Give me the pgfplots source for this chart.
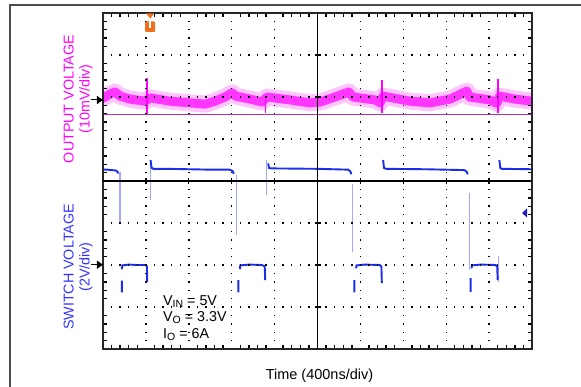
\documentclass[border=0pt]{standalone}
\usepackage{pgfplots}
\pgfplotsset{compat=1.18}
\usepackage{fontspec}
\setmainfont{Liberation Sans}
\usetikzlibrary{arrows.meta}
\definecolor{mag}{RGB}{255,0,255}
\definecolor{magcore}{RGB}{255,30,255}
\definecolor{magl}{RGB}{255,150,255}
\definecolor{magline}{RGB}{176,48,176}
\definecolor{tr2}{RGB}{25,45,235}
\definecolor{tr2f}{RGB}{160,168,255}
\definecolor{lab2}{RGB}{51,51,255}
\definecolor{trig}{RGB}{240,112,32}
\definecolor{mk2}{RGB}{30,30,190}
\newcommand{\sub}[1]{\raisebox{-2.6pt}{\fontsize{10.5}{12}\selectfont #1}}

\begin{document}
\begin{tikzpicture}
\begin{axis}[
  at={(0,0)}, anchor=south west,
  scale only axis, width=429pt, height=336pt,
  xmin=0, xmax=10, ymin=0, ymax=8,
  xtick={0,...,10}, ytick={0,...,8},
  xticklabels={}, yticklabels={},
  major tick length=0pt,
  minor x tick num=4, minor y tick num=4,
  minor tick length=4pt,
  tick align=inside,
  minor tick style={black, line width=1.4pt},
  grid=major,
  x grid style={black, line width=1.4pt, dash pattern=on 1.4pt off 7pt, dash phase=0.7pt},
  y grid style={black, line width=1.4pt, dash pattern=on 1.4pt off 7.18pt, dash phase=0.7pt},
  axis line style={black!85, line width=1.2pt},
  axis on top,
  unbounded coords=jump,
  clip=true,
]
% ---- channel 1: output voltage (band) ----
\addplot[magl, line width=17pt, line join=round, line cap=round, opacity=0.55] coordinates {
(0,5.97)(0.16,6.07)(0.28,6.12)(0.40,6.02)(0.63,5.95)(0.98,5.90)(1.10,5.98)
(1.56,5.90)(2.03,5.86)(2.38,5.83)(2.61,5.90)(2.84,6.00)(3.01,6.10)(3.10,6.02)
(3.43,5.95)(3.71,5.88)(3.82,6.00)(4.36,5.93)(4.83,5.86)(5.06,5.88)(5.41,6.00)
(5.73,6.12)(5.83,6.00)(6.34,5.93)(6.46,5.86)(6.53,6.02)(7.16,5.90)(7.62,5.86)
(8.09,5.95)(8.48,6.14)(8.55,6.00)(9.02,5.93)(9.18,5.85)(9.25,6.02)(9.60,5.95)(10,5.90)};
\addplot[magcore, line width=9pt, line join=round, line cap=round, opacity=0.85] coordinates {
(0,5.97)(0.16,6.07)(0.28,6.12)(0.40,6.02)(0.63,5.95)(0.98,5.90)(1.10,5.98)
(1.56,5.90)(2.03,5.86)(2.38,5.83)(2.61,5.90)(2.84,6.00)(3.01,6.10)(3.10,6.02)
(3.43,5.95)(3.71,5.88)(3.82,6.00)(4.36,5.93)(4.83,5.86)(5.06,5.88)(5.41,6.00)
(5.73,6.12)(5.83,6.00)(6.34,5.93)(6.46,5.86)(6.53,6.02)(7.16,5.90)(7.62,5.86)
(8.09,5.95)(8.48,6.14)(8.55,6.00)(9.02,5.93)(9.18,5.85)(9.25,6.02)(9.60,5.95)(10,5.90)};
% spikes
\addplot[mag, line width=1.3pt] coordinates {
(1.026,6.45)(1.026,5.57) (nan,nan)
(3.78,5.95)(3.78,5.62) (nan,nan)
(6.50,6.40)(6.50,5.62) (nan,nan)
(9.21,6.43)(9.21,5.62)};
% reference line
\addplot[magline, line width=1.3pt] coordinates {(0,5.59)(10,5.59)};
% ---- channel 2: switch voltage ----
\addplot[tr2f, line width=1.1pt] coordinates {
(0.396,4.21)(0.396,3.00) (nan,nan)
(1.10,4.50)(1.10,3.55) (nan,nan)
(3.117,4.14)(3.117,2.71) (nan,nan)
(3.82,4.50)(3.82,3.67) (nan,nan)
(5.82,3.94)(5.82,2.32) (nan,nan)
(8.54,3.71)(8.54,1.88) (nan,nan)
(9.21,2.21)(9.21,1.60)};
\addplot[tr2, line width=1.9pt] coordinates {
(0,4.27)(0.10,4.27)(0.20,4.26)(0.30,4.25)(0.34,4.22)(0.35,4.18) (nan,nan)
(1.11,4.50)(1.13,4.32)(1.17,4.29)(1.5,4.29)(2.0,4.28)(2.5,4.27)(2.95,4.27)(3.02,4.24)(3.05,4.17) (nan,nan)
(3.85,4.42)(3.87,4.31)(3.92,4.30)(5.0,4.29)(5.72,4.27)(5.77,4.22)(5.79,4.16) (nan,nan)
(6.53,4.50)(6.55,4.31)(6.60,4.29)(7.5,4.28)(8.42,4.26)(8.48,4.22)(8.50,4.16) (nan,nan)
(9.24,4.50)(9.26,4.31)(9.30,4.29)(10,4.28) (nan,nan)
(0.44,1.90)(0.45,1.99)(0.6,2.01)(0.8,2.00)(1.0,2.00)(1.025,1.96)(1.03,1.60) (nan,nan)
(0.44,1.63)(0.44,1.35) (nan,nan)
(3.19,1.90)(3.20,1.99)(3.4,2.01)(3.7,2.00)(3.77,1.97)(3.78,1.64) (nan,nan)
(3.155,1.64)(3.155,1.35) (nan,nan)
(5.90,1.92)(5.91,1.99)(6.1,2.01)(6.45,2.00)(6.49,1.96)(6.50,1.57) (nan,nan)
(5.86,1.64)(5.86,1.35) (nan,nan)
(8.59,1.92)(8.60,1.99)(8.8,2.01)(9.15,2.00)(9.19,1.96)(9.20,1.64) (nan,nan)
(8.57,1.69)(8.57,1.36)};
\coordinate (SW) at (rel axis cs:0,0);
\end{axis}
% centre lines with cross ticks
\draw[black, line width=1.3pt] (SW) ++(214.5pt,0) -- ++(0,336pt);
\draw[black, line width=1.3pt] (SW) ++(0,168pt) -- ++(429pt,0);
\foreach \k in {1,...,9} \draw[black, line width=1.3pt] (SW) ++(\k*42.9pt,165pt) -- ++(0,6pt);
\foreach \k in {1,...,7} \draw[black, line width=1.3pt] (SW) ++(211.5pt,\k*42pt) -- ++(6pt,0);
% trigger marker
\fill[trig] (SW) ++(43.2pt,335.5pt) -- ++(8pt,0) -- ++(-4pt,-5pt) -- cycle;
\fill[trig, rounded corners=1pt] (SW) ++(42.2pt,317pt) rectangle ++(10pt,10.5pt);
\fill[white] (SW) ++(46.2pt,321pt) rectangle ++(2pt,6.5pt);
% channel 2 trigger level marker (right)
\fill[mk2] (SW) ++(419pt,136pt) -- ++(5pt,4.5pt) -- ++(0,-9pt) -- cycle;
% ground arrows
\draw[black, line width=1pt, -{Triangle[length=6pt,width=8pt]}] (SW) ++(-12pt,249pt) -- ++(12pt,0);
\draw[black, line width=1pt, -{Triangle[length=6pt,width=8pt]}] (SW) ++(-12pt,84.3pt) -- ++(12pt,0);
% channel labels
\node[rotate=90, align=center, text=mag, font=\fontsize{14.3}{16}\selectfont] at ([shift={(-25pt,250pt)}]SW) {OUTPUT VOLTAGE\\(10mV/div)};
\node[rotate=90, align=center, text=lab2, font=\fontsize{14.3}{16}\selectfont] at ([shift={(-25pt,82pt)}]SW) {SWITCH VOLTAGE\\(2V/div)};
% conditions
\node[anchor=base west, inner sep=0pt, font=\fontsize{14.3}{16}\selectfont] at ([shift={(60pt,44pt)}]SW) {V\sub{IN} = 5V};
\node[anchor=base west, inner sep=0pt, font=\fontsize{14.3}{16}\selectfont] at ([shift={(60pt,28pt)}]SW) {V\sub{O} = 3.3V};
\node[anchor=base west, inner sep=0pt, font=\fontsize{14.3}{16}\selectfont] at ([shift={(60pt,11pt)}]SW) {I\sub{O} = 6A};
% x label
\node[anchor=base, inner sep=0pt, font=\fontsize{14.5}{16}\selectfont] at ([shift={(216.5pt,-30pt)}]SW) {Time (400ns/div)};
% bounding box and outer frame
\pgfresetboundingbox
\path[use as bounding box] (SW) ++(-103pt,-37pt) rectangle ++(581pt,386pt);
\draw[black!70, line width=1.5pt] (SW) ++(-93pt,-60pt) -- ++(0,404pt) -- ++(700pt,0);
\end{tikzpicture}
\end{document}
